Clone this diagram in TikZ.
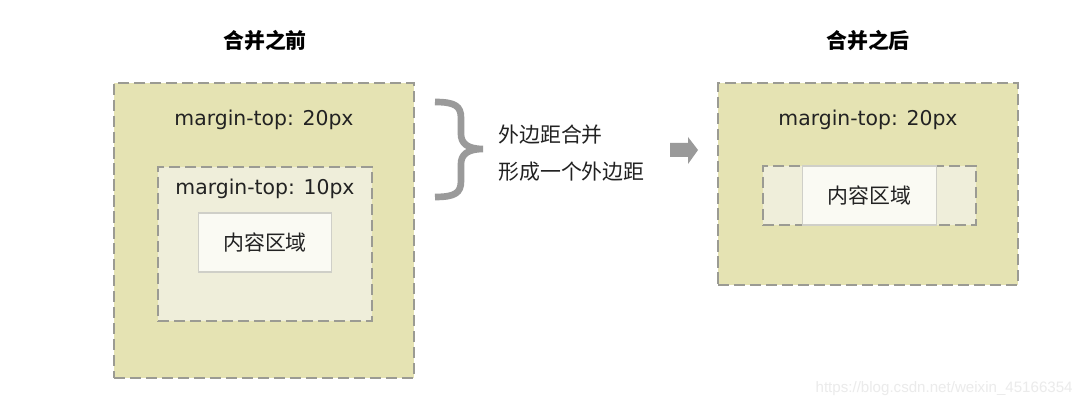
\documentclass[tikz,border=0pt]{standalone}
\usepackage{fontspec}
\setmainfont{DejaVu Sans}
\newfontfamily\cjk{Noto Sans CJK SC}
\newfontfamily\wmfont{Liberation Sans}
\usetikzlibrary{positioning}
\definecolor{outerfill}{HTML}{E5E3B3}
\definecolor{innerfill}{HTML}{EFEEDA}
\definecolor{contfill}{HTML}{FAFAF3}
\definecolor{contline}{HTML}{CFCFC8}
\definecolor{dashgray}{HTML}{9B9B93}
\definecolor{markgray}{HTML}{9A9A9A}
\definecolor{inkdark}{HTML}{222222}
\tikzset{
  outerbox/.style={draw=dashgray,line width=1.1pt,dash pattern=on 6.3pt off 2.8pt,
                   fill=outerfill,inner sep=0pt},
  innerbox/.style={draw=dashgray,line width=1.1pt,dash pattern=on 6.3pt off 2.8pt,
                   fill=innerfill,inner sep=0pt},
  contbox/.style ={draw=contline,line width=0.6pt,fill=contfill,inner sep=0pt,
                   minimum width=2.67cm,minimum height=1.18cm},
  mtext/.style   ={text=inkdark,font=\fontsize{11.6}{14}\selectfont,inner sep=0pt},
  ctext/.style   ={text=inkdark,font=\cjk\fontsize{11.9}{14}\selectfont,inner sep=0pt},
  title/.style   ={text=black,font=\cjk\bfseries\fontsize{11.9}{14}\selectfont,inner sep=0pt}
}
\begin{document}
\begin{tikzpicture}[x=0.02cm,y=-0.02cm]
  \useasboundingbox[fill=white] (0,0) rectangle (1083,408);
  % before
  \node[title] (tbefore) at (265,40) {合并之前};
  \node[outerbox,minimum width=6cm,minimum height=5.9cm] (lout) at (264,230.5) {};
  \node[mtext] (lmt20) at (264,120) {margin-top: 20px};
  \node[innerbox,minimum width=4.28cm,minimum height=3.08cm] (lin) at (265,244) {};
  \node[mtext] (lmt10) at (265,189) {margin-top: 10px};
  \node[contbox] (lcont) at (265,242.5) {};
  \node[ctext] at (lcont) {内容区域};
  % brace + note
  \draw[markgray,line width=3.8pt,line cap=butt]
    (435,102) .. controls (455,102) and (461,106) .. (461,118) -- (461,134)
    .. controls (461,143) and (467,149) .. (483,149)
    .. controls (467,149) and (461,155) .. (461,164) -- (461,181)
    .. controls (461,193) and (455,197) .. (435,197);
  \node[ctext,anchor=west] (note1) at (498,135) {外边距合并};
  \node[ctext,anchor=west] (note2) at (498,172) {形成一个外边距};
  \fill[markgray] (670,143) -- (688,143) -- (688,137) -- (698,150)
    -- (688,164) -- (688,157) -- (670,157) -- cycle;
  % after
  \node[title] (tafter) at (868,40) {合并之后};
  \node[outerbox,minimum width=6cm,minimum height=4.04cm] (rout) at (868,184) {};
  \node[mtext] (rmt20) at (868,120) {margin-top: 20px};
  \node[innerbox,minimum width=4.26cm,minimum height=1.18cm] (rin) at (869.5,195.5) {};
  \node[contbox] (rcont) at (869.5,195.5) {};
  \node[ctext] at (rcont) {内容区域};
  \node[text=black!8,font=\wmfont\fontsize{8.6}{10}\selectfont,anchor=east,inner sep=0pt]
    (wmark) at (1073,389) {https://blog.csdn.net/weixin\_45166354};
\end{tikzpicture}
\end{document}
